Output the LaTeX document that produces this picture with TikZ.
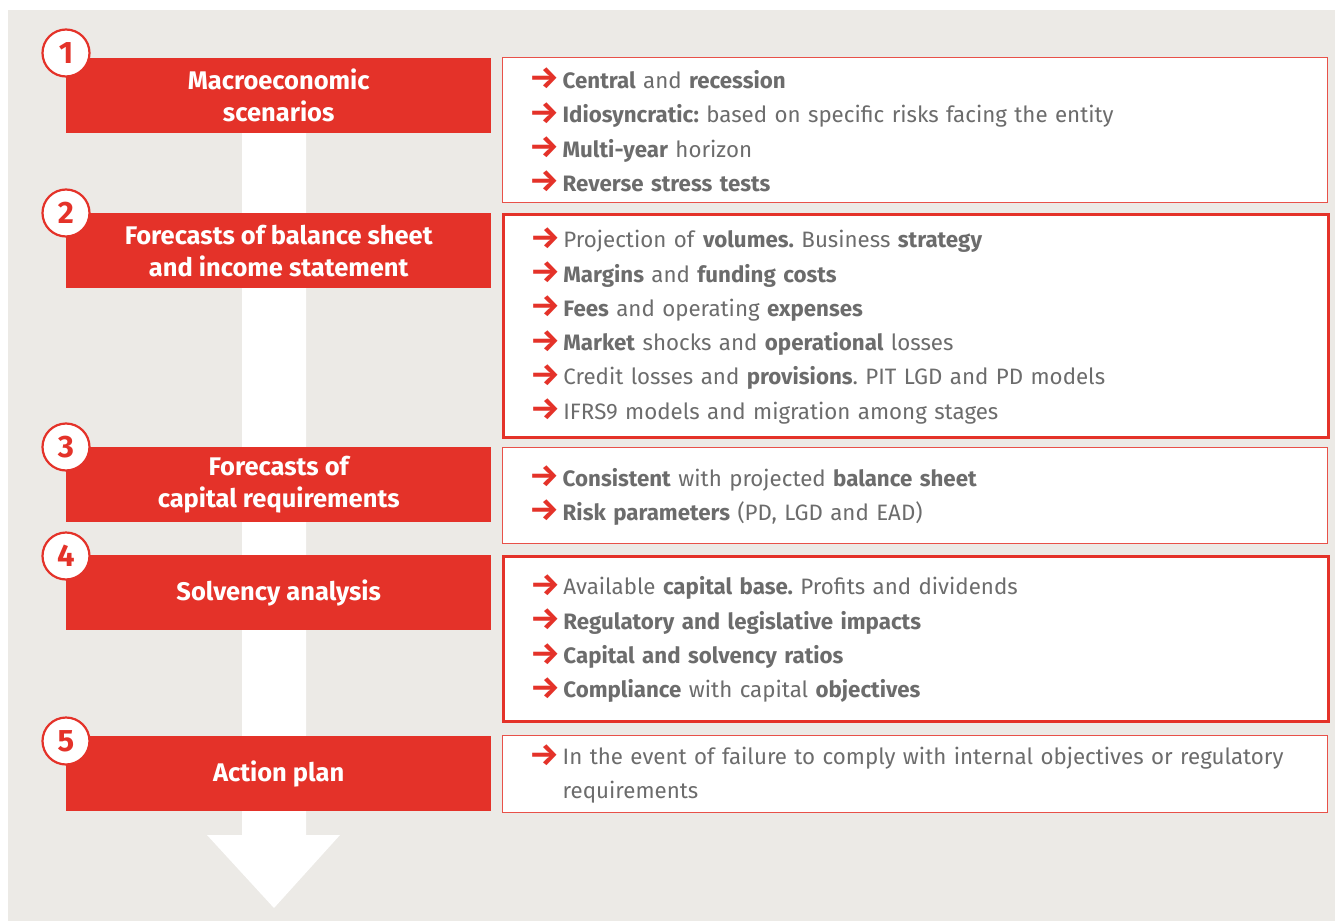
\documentclass[tikz,border=0pt]{standalone}
\usepackage{fontspec}
\setmainfont{Fira Sans}
\usepackage{tikz}
\usetikzlibrary{positioning, backgrounds}
\definecolor{sanred}{RGB}{228,50,41}
\definecolor{paper}{RGB}{236,234,230}
\definecolor{bodygray}{RGB}{108,108,108}
\newcommand{\itemarrow}{\textcolor{sanred}{\raisebox{-0.5pt}{\scalebox{1.5}[1.4]{\bfseries →}}}\hspace{3pt}}
\frenchspacing

\begin{document}
\begin{tikzpicture}[
      x=1pt, y=-1pt,
      stage/.style={rectangle, fill=sanred, text=white, align=center, anchor=north west, minimum width=425pt, minimum height=75pt, inner sep=0pt, font=\fontsize{25.5}{32}\selectfont\bfseries},
      num/.style={circle, draw=sanred, line width=2.2pt, fill=white, text=sanred, minimum size=47pt, inner sep=0pt, font=\fontsize{31}{31}\selectfont\bfseries},
      detail/.style={rectangle, draw=sanred!85!white, line width=1.2pt, fill=white, text=bodygray, align=left, anchor=north west, text width=771pt, inner xsep=27pt, inner ysep=0pt, font=\fontsize{22.3}{34.3}\selectfont},
      strong/.style={detail, line width=2.6pt, draw=sanred},
    ]
    \useasboundingbox (0,0) rectangle (1335,923);

    \node[stage] (bar1) at (66,58) {Macroeconomic\\scenarios};
    \node[stage] (bar2) at (66,213) {Forecasts of balance sheet\\and income statement};
    \node[stage] (bar3) at (66,447) {Forecasts of\\capital requirements};
    \node[stage] (bar4) at (66,555) {Solvency analysis};
    \node[stage] (bar5) at (66,736) {Action plan};

    \node[num] (n1) at (66,53) {1};
    \node[num] (n2) at (66,213) {2};
    \node[num] (n3) at (66,447) {3};
    \node[num] (n4) at (66,556) {4};
    \node[num] (n5) at (66,741) {5};

    \node[detail, minimum height=145pt] (box1) at (502,57) {%
      \itemarrow\textbf{Central} and \textbf{recession}\\
      \itemarrow\textbf{Idiosyncratic:} based on specific risks facing the entity\\
      \itemarrow\textbf{Multi-year} horizon\\
      \itemarrow\textbf{Reverse stress tests}};
    \node[strong, minimum height=223pt] (box2) at (502,213) {%
      \itemarrow Projection of \textbf{volumes.} Business \textbf{strategy}\\
      \itemarrow\textbf{Margins} and \textbf{funding costs}\\
      \itemarrow\textbf{Fees} and operating \textbf{expenses}\\
      \itemarrow\textbf{Market} shocks and \textbf{operational} losses\\
      \itemarrow Credit losses and \textbf{provisions}. PIT LGD and PD models\\
      \itemarrow IFRS9 models and migration among stages};
    \node[detail, minimum height=96pt] (box3) at (502,447) {%
      \itemarrow\textbf{Consistent} with projected \textbf{balance sheet}\\
      \itemarrow\textbf{Risk parameters} (PD, LGD and EAD)};
    \node[strong, minimum height=165pt] (box4) at (502,555) {%
      \itemarrow Available \textbf{capital base.} Profits and dividends\\
      \itemarrow\textbf{Regulatory and legislative impacts}\\
      \itemarrow\textbf{Capital and solvency ratios}\\
      \itemarrow\textbf{Compliance} with capital \textbf{objectives}};
    \node[detail, minimum height=77pt] (box5) at (502,735) {%
      \itemarrow In the event of failure to comply with internal objectives or regulatory\\
      \phantom{\itemarrow}requirements};

    \begin{scope}[on background layer]
      \fill[paper] (8,10) rectangle (1335,921);
      \fill[white] (242,100) -- (242,835) -- (207,835) -- (274,908) -- (340,835) -- (306,835) -- (306,100) -- cycle;
    \end{scope}
  \end{tikzpicture}
\end{document}
